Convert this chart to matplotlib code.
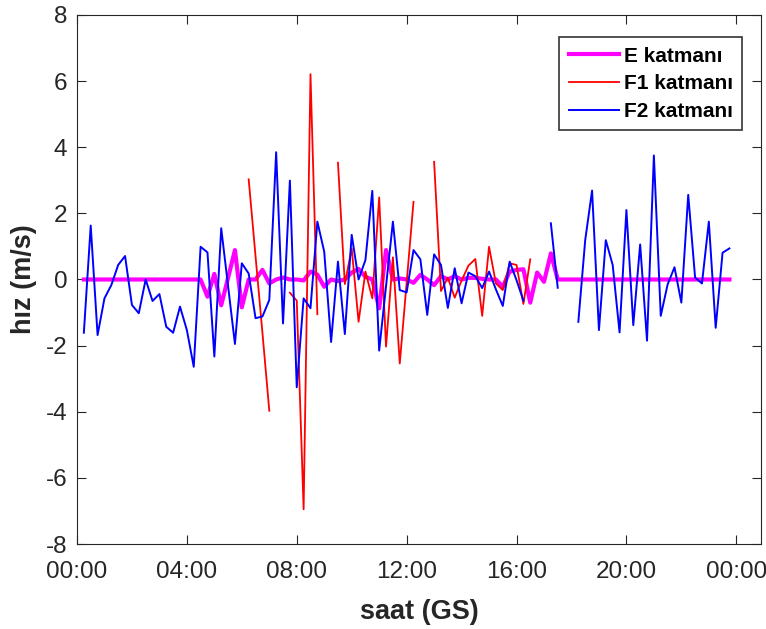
import numpy as np
import matplotlib
matplotlib.use("Agg")
import matplotlib.pyplot as plt

nan = np.nan
# time in hours (15-minute samples)
hours = [0.25 * k for k in range(1, 96)]

E_vals = ([0.0] * 18 +
          [-0.52, 0.17, -0.78, 0.05, 0.89, -0.84, 0.0, 0.0, 0.29, -0.12,   # 4.75-7.0
           0.0, 0.06, 0.0, 0.0, -0.03, 0.24, 0.15, -0.22, 0.0, -0.05,      # 7.25-9.5
           0.0, 0.21, 0.32, 0.08, 0.0, -0.87, 0.89, 0.0, 0.03, 0.0,        # 9.75-12.0
           -0.1, 0.14, 0.0, -0.17, 0.1, 0.0, 0.1, 0.0, 0.05, 0.05,         # 12.25-14.5
           0.02, 0.0, 0.0, -0.22, 0.24, 0.29, 0.31, -0.70, 0.21, -0.07,    # 14.75-17.0
           0.79, 0.0] +                                                   # 17.25-17.5
          [0.0] * 25)

F1_vals = ([nan] * 24 +
           [3.03, 0.7, -1.6, -3.97,            # 6.25 - 7.0
            nan, nan,
            -0.40, -0.64, -6.95, 6.21, -1.05,  # 7.75 - 8.75
            nan, nan,
            3.53, -0.14, 0.94, -1.28, 0.24, -0.57, 2.48, -2.03, 0.67, -2.54,
            -0.1, 2.35,                        # 9.5 - 12.25
            nan, nan,
            3.56, -0.35, 0.06, -0.55, -0.03, 0.42, 0.62, -1.10, 0.99, -0.12,
            -0.32, 0.49, 0.44, -0.74, 0.61] +  # 13.0 - 16.5
           [nan] * 29)

F2_vals = [-1.61, 1.63, -1.68, -0.57, -0.17, 0.44, 0.71, -0.77, -1.02, 0.0,
           -0.65, -0.44, -1.43, -1.61, -0.82, -1.53, -2.64, 0.99, 0.82, -2.33,
           1.55, -0.2, -1.95, 0.49, 0.18, -1.17, -1.12, -0.62, 3.85, -1.33,
           2.99, -3.26, -0.57, -0.87, 1.75, 0.84, -1.89, 0.54, -1.65, 1.35,
           0.0, 0.59, 2.68, -2.15, -0.2, 1.75, -0.32, -0.39, 0.89, 0.61,
           -1.07, 0.76, 0.44, -0.86, 0.34, -0.72, 0.21, 0.10, -0.26, 0.24,
           -0.3, -0.80, 0.54, -0.02, -0.64, nan, nan, nan, 1.70, -0.25,
           nan, nan, -1.28, 1.19, 2.69, -1.53, 1.19, 0.44, -1.60, 2.10,
           -1.38, 1.06, -1.85, 3.75, -1.10, -0.15, 0.37, -0.70, 2.56, 0.06,
           -0.12, 1.75, -1.46, 0.81, 0.94]

xticks = [0, 4, 8, 12, 16, 20, 24]
xtick_labels = ["00:00", "04:00", "08:00", "12:00", "16:00", "20:00", "00:00"]
yticks = list(range(-8, 9, 2))

plt.rcParams['font.family'] = ['Liberation Sans', 'DejaVu Sans']
plt.rcParams['axes.unicode_minus'] = False

fig = plt.figure(figsize=(7.66, 6.29), dpi=100)
ax = fig.add_axes([0.1005, 0.1351, 0.8930, 0.8411])

ax.plot(hours, E_vals, color='#ff00ff', lw=3.0, label='E katmanı', zorder=2)
ax.plot(hours, F1_vals, color='#ff0000', lw=1.3, label='F1 katmanı', zorder=3)
ax.plot(hours, F2_vals, color='#0000ff', lw=1.4, label='F2 katmanı', zorder=4)

ax.set_xlim(0, 24.9)
ax.set_ylim(-8, 8)
ax.set_xticks(xticks)
ax.set_xticklabels(xtick_labels)
ax.set_yticks(yticks)
ax.tick_params(direction='in', top=True, right=True, labelsize=17.5,
               length=6.5, width=0.8, colors='#262626', labelcolor='#262626')
ax.tick_params(axis='x', pad=12)
ax.tick_params(axis='y', pad=7)
for s in ax.spines.values():
    s.set_color('#262626')
    s.set_linewidth(0.8)

ax.set_xlabel('saat (GS)', fontsize=19.5, fontweight='bold', color='#262626',
              labelpad=12)
ax.set_ylabel('hız (m/s)', fontsize=19.5, fontweight='bold', color='#262626',
              labelpad=6)

leg = ax.legend(loc='upper right', bbox_to_anchor=(0.9725, 0.958),
                prop={'weight': 'bold', 'size': 15}, frameon=True, fancybox=False,
                edgecolor='black', handlelength=2.4, handletextpad=0.25,
                borderpad=0.45, labelspacing=0.42, borderaxespad=0.0)
leg.get_frame().set_linewidth(1.2)

fig.savefig('out.png', dpi=100)
